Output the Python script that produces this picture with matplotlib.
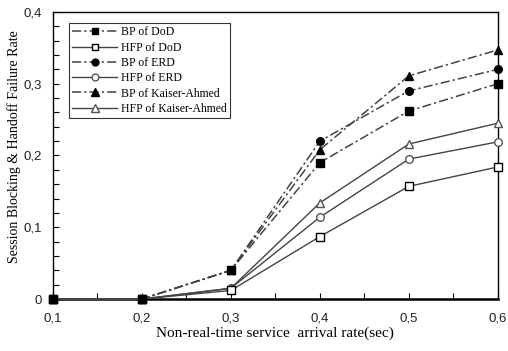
import matplotlib
matplotlib.use("Agg")
import matplotlib.pyplot as plt
from matplotlib.ticker import MultipleLocator, FuncFormatter

rate = [0.1, 0.2, 0.3, 0.4, 0.5, 0.6]

bp_dod = [0, 0, 0.040, 0.190, 0.262, 0.300]
hfp_dod = [0, 0, 0.012, 0.087, 0.157, 0.184]
bp_erd = [0, 0, 0.040, 0.220, 0.290, 0.320]
hfp_erd = [0, 0, 0.015, 0.114, 0.195, 0.219]
bp_ka = [0, 0, 0.040, 0.208, 0.311, 0.347]
hfp_ka = [0, 0, 0.015, 0.134, 0.216, 0.245]

labels = ["BP of DoD", "HFP of DoD", "BP of ERD", "HFP of ERD",
          "BP of Kaiser-Ahmed", "HFP of Kaiser-Ahmed"]

fig = plt.figure(figsize=(5.08, 3.51), dpi=100)
ax = fig.add_axes([0.104, 0.148, 0.876, 0.818])

dash = (0, (6, 2, 1.5, 2))
lc = "#444444"
ms = 5.5
series = [
    (bp_dod, dash, "s", "black", "black", 9),
    (hfp_dod, "-", "s", "white", "black", 4),
    (bp_erd, dash, "o", "black", "black", 6),
    (hfp_erd, "-", "o", "white", "#555555", 3),
    (bp_ka, dash, "^", "black", "black", 5),
    (hfp_ka, "-", "^", "white", "#555555", 3),
]
for (vals, ls, mk, fc, ec, z), lab in zip(series, labels):
    ax.plot(rate, vals, linestyle=ls, color=lc, lw=1.1 if ls == dash else 1.0,
            marker=mk, ms=ms + (0.5 if mk == "^" else 0), mfc=fc, mec=ec,
            label=lab, clip_on=False, zorder=z)

ax.set_xlim(0.1, 0.6)
ax.set_ylim(0, 0.4)
ax.xaxis.set_major_locator(MultipleLocator(0.1))
ax.xaxis.set_minor_locator(MultipleLocator(0.05))
ax.yaxis.set_major_locator(MultipleLocator(0.1))
ax.yaxis.set_minor_locator(MultipleLocator(0.02))
fmt = FuncFormatter(lambda v, p: "0" if abs(v) < 1e-9 else ("%.1f" % v).replace(".", ","))
ax.xaxis.set_major_formatter(fmt)
ax.yaxis.set_major_formatter(fmt)
ax.tick_params(which="both", direction="in", length=4, width=0.8)
ax.tick_params(axis="x", which="both", pad=10)
ax.tick_params(axis="y", which="both", pad=8)
for lab in ax.get_xticklabels() + ax.get_yticklabels():
    lab.set_family("Liberation Sans")
    lab.set_fontsize(9.5)
    lab.set_color("#222222")
for s in ax.spines.values():
    s.set_linewidth(1.0)
ax.spines["bottom"].set_linewidth(1.8)

ax.set_xlabel("Non-real-time service  arrival rate(sec)", family="Liberation Serif",
              fontsize=11)
ax.xaxis.set_label_coords(0.5, -0.095)
ax.set_ylabel("Session Blocking & Handoff Failure Rate", family="Liberation Serif",
              fontsize=10)
ax.yaxis.set_label_coords(-0.072, 0.53)

leg = ax.legend(loc="upper left", bbox_to_anchor=(0.036, 0.962), fancybox=False,
                edgecolor="black", prop={"family": "Liberation Serif", "size": 8.5},
                handlelength=3.8, labelspacing=0.28, borderpad=0.3,
                handletextpad=0.3, borderaxespad=0, markerscale=0.9)
leg.get_frame().set_linewidth(0.8)
leg.set_zorder(10)

fig.savefig("out.png", dpi=100)
